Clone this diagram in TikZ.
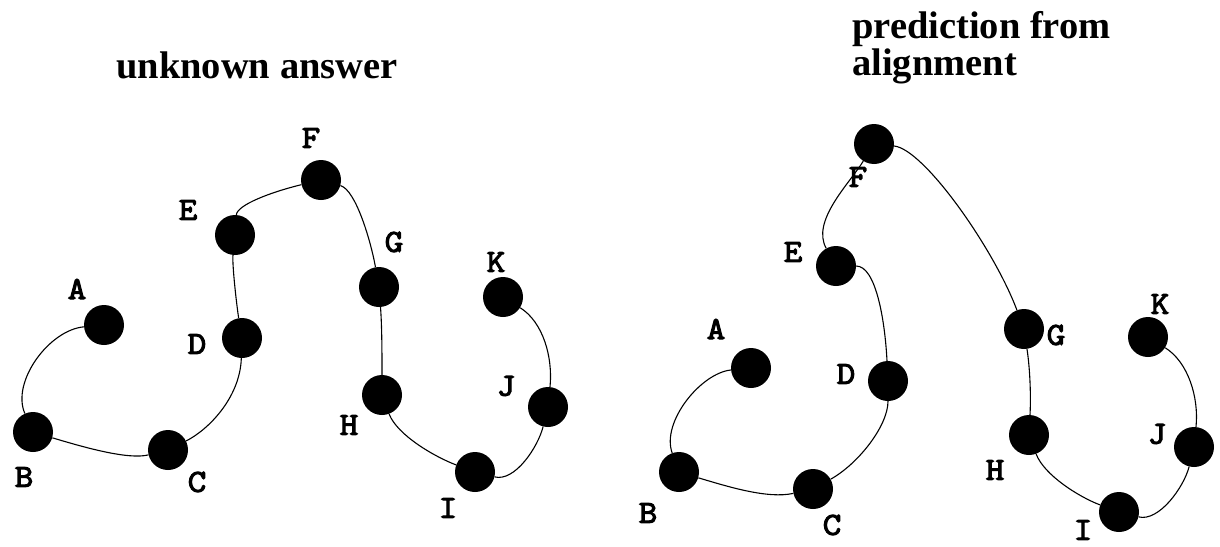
\documentclass[tikz,border=0pt]{standalone}
\usepackage{fontspec}
\setmainfont{Liberation Serif}
\newfontfamily\labfont{Latin Modern Mono}[FakeBold=3.5,FakeStretch=1.12]
\begin{document}
\begin{tikzpicture}[x=1pt,y=-1pt,
  dot/.style={circle,fill=black,draw=none,minimum size=40pt,inner sep=0pt},
  lab/.style={font=\labfont\fontsize{32}{32}\selectfont,inner sep=0pt},
  ttl/.style={font=\bfseries\fontsize{38.5}{37}\selectfont,inner sep=0pt},
  link/.style={line width=1.1pt}]
\useasboundingbox (0,0) rectangle (1220,546);
% titles
\node[ttl,anchor=base] (t1) at (257,78) {unknown answer};
\node[ttl,anchor=north west,align=left] (t2) at (852,11) {prediction from\\alignment};
% left dots
\node[dot] (lA) at (104,325) {};
\node[dot] (lB) at (33,432) {};
\node[dot] (lC) at (168,450) {};
\node[dot] (lD) at (242,338) {};
\node[dot] (lE) at (235,235) {};
\node[dot] (lF) at (321,180) {};
\node[dot] (lG) at (379,287) {};
\node[dot] (lH) at (382,395) {};
\node[dot] (lI) at (475,472) {};
\node[dot] (lJ) at (548,407) {};
\node[dot] (lK) at (503,297) {};
% left labels
\node[lab] (laA) at (77,289) {A};
\node[lab] (laB) at (24,477) {B};
\node[lab] (laC) at (197,482) {C};
\node[lab] (laD) at (197,344) {D};
\node[lab] (laE) at (188,210) {E};
\node[lab] (laF) at (311,138) {F};
\node[lab] (laG) at (394,242) {G};
\node[lab] (laH) at (349,425) {H};
\node[lab] (laI) at (448,508) {I};
\node[lab] (laJ) at (506,386) {J};
\node[lab] (laK) at (496,262) {K};
% left links
\draw[link] (lA) .. controls +(-55,5) and +(-22,-50) .. (lB);
\draw[link] (lB) .. controls +(50,15) and +(-40,10) .. (lC);
\draw[link] (lC) .. controls +(40,-20) and +(-2,60) .. (lD);
\draw[link] (lD) .. controls +(-5,-30) and +(-3,30) .. (lE);
\draw[link] (lE) .. controls +(2,-30) and +(-50,12) .. (lF);
\draw[link] (lF) .. controls +(35,10) and +(-8,-45) .. (lG);
\draw[link] (lG) .. controls +(3,40) and +(0,-40) .. (lH);
\draw[link] (lH) .. controls +(15,40) and +(-40,-15) .. (lI);
\draw[link] (lI) .. controls +(40,10) and +(-10,40) .. (lJ);
\draw[link] (lJ) .. controls +(5,-50) and +(40,25) .. (lK);
% right dots
\node[dot] (rA) at (751,368) {};
\node[dot] (rB) at (679,472) {};
\node[dot] (rC) at (813,489) {};
\node[dot] (rD) at (888,381) {};
\node[dot] (rE) at (836,266) {};
\node[dot] (rF) at (874,144) {};
\node[dot] (rG) at (1024,329) {};
\node[dot] (rH) at (1029,435) {};
\node[dot] (rI) at (1119,512) {};
\node[dot] (rJ) at (1194,447) {};
\node[dot] (rK) at (1148,337) {};
% right labels
\node[lab] (raA) at (716,329) {A};
\node[lab] (raB) at (648,513) {B};
\node[lab] (raC) at (832,525) {C};
\node[lab] (raD) at (846,374) {D};
\node[lab] (raE) at (793,252) {E};
\node[lab] (raF) at (858,177) {F};
\node[lab] (raG) at (1056,335) {G};
\node[lab] (raH) at (995,470) {H};
\node[lab] (raI) at (1083,530) {I};
\node[lab] (raJ) at (1157,434) {J};
\node[lab] (raK) at (1160,304) {K};
% right links
\draw[link] (rA) .. controls +(-50,5) and +(-18,-50) .. (rB);
\draw[link] (rB) .. controls +(50,15) and +(-45,10) .. (rC);
\draw[link] (rC) .. controls +(45,-25) and +(0,45) .. (rD);
\draw[link] (rD) .. controls +(-3,-60) and +(40,0) .. (rE);
\draw[link] (rE) .. controls +(-25,-45) and +(-25,40) .. (rF);
\draw[link] (rF) .. controls +(50,5) and +(-30,-80) .. (rG);
\draw[link] (rG) .. controls +(6,40) and +(2,-40) .. (rH);
\draw[link] (rH) .. controls +(15,40) and +(-40,-15) .. (rI);
\draw[link] (rI) .. controls +(40,10) and +(-10,40) .. (rJ);
\draw[link] (rJ) .. controls +(5,-50) and +(40,25) .. (rK);
\end{tikzpicture}
\end{document}
